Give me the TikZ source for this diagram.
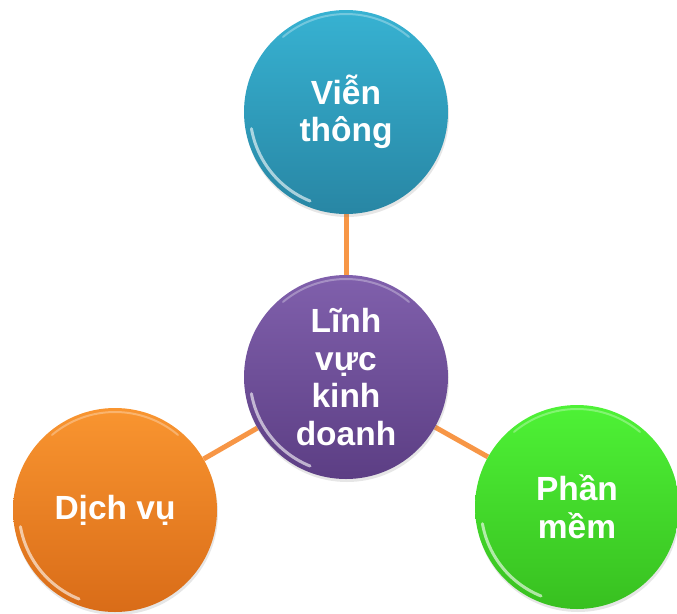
\documentclass[tikz,border=0pt]{standalone}
\usepackage{fontspec}
\setmainfont{Liberation Sans}
\usetikzlibrary{backgrounds,shadows}
\definecolor{lineor}{HTML}{F79646}
\definecolor{blueT}{HTML}{37B2D2}
\definecolor{blueB}{HTML}{2886A4}
\definecolor{purT}{HTML}{8060AC}
\definecolor{purB}{HTML}{5C3E84}
\definecolor{oraT}{HTML}{F99530}
\definecolor{oraB}{HTML}{D96C18}
\definecolor{grnT}{HTML}{4EF236}
\definecolor{grnB}{HTML}{38C020}
\begin{document}
\begin{tikzpicture}[x=1pt,y=-1pt]
\useasboundingbox (0,0) rectangle (677,613);
\tikzset{
  bubble/.style={circle, minimum size=204pt, inner sep=0pt, text=white,
    font=\fontsize{33.5}{37.5}\selectfont\bfseries, align=center,
    drop shadow={opacity=0.2, shadow xshift=1pt, shadow yshift=-3pt}},
  link/.style={draw=lineor, line width=5pt},
  gloss/.style={white, line width=3pt, opacity=0.6, line cap=round},
  rim/.style={white, line width=2pt, opacity=0.3, line cap=round}
}
\node[bubble, top color=blueT, bottom color=blueB] (vt) at (346,112) {Viễn\\thông};
\node[bubble, top color=purT, bottom color=purB] (lv) at (346,377) {Lĩnh\\vực\\kinh\\doanh};
\node[bubble, top color=oraT, bottom color=oraB] (dv) at (115,510) {Dịch vụ};
\node[bubble, top color=grnT, bottom color=grnB] (pm) at (577,507) {Phần\\mềm};
\begin{pgfonlayer}{background}
\draw[link] (vt) -- (lv);
\draw[link] (lv) -- (dv);
\draw[link] (lv) -- (pm);
\end{pgfonlayer}
\foreach \n in {vt,lv,dv,pm}{
  \draw[gloss] ([shift={(190:96pt)}]\n.center) arc[start angle=190, end angle=248, radius=96pt];
  \draw[rim] ([shift={(50:98pt)}]\n.center) arc[start angle=50, end angle=130, radius=98pt];
}
\end{tikzpicture}
\end{document}
